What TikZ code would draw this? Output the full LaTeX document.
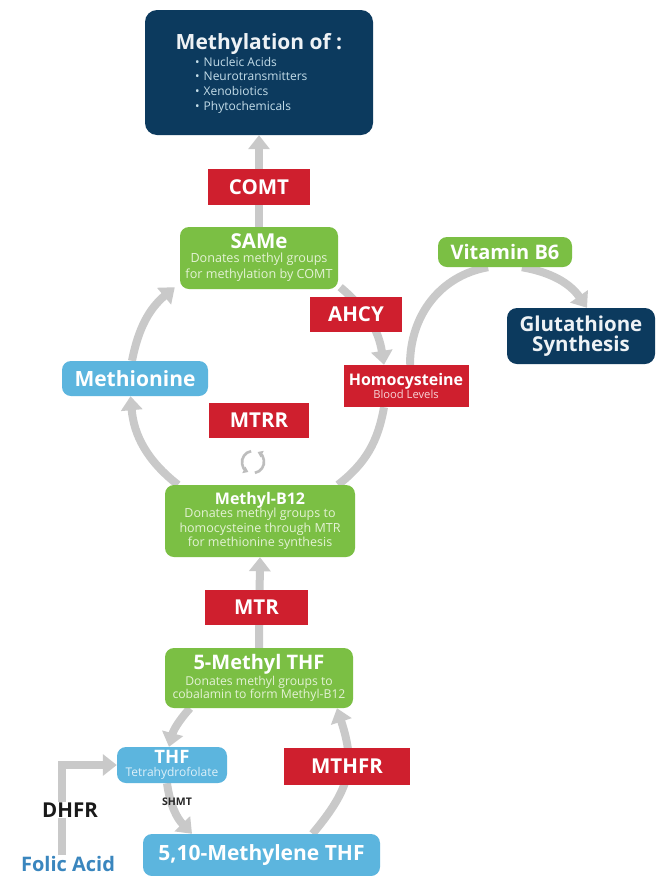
\documentclass[tikz,border=0pt]{standalone}
\usepackage{fontspec}
\setmainfont{Open Sans}
\usetikzlibrary{arrows.meta,backgrounds}
\definecolor{navy}{HTML}{0C3A5E}
\definecolor{enzred}{HTML}{CF1F2E}
\definecolor{leafgreen}{HTML}{7BBF44}
\definecolor{skyblue}{HTML}{5CB5DE}
\definecolor{arrowgray}{HTML}{C9C9C9}
\definecolor{cycgray}{HTML}{BDBDBD}
\definecolor{folicblue}{HTML}{3A86BE}
\definecolor{bullettext}{HTML}{C4DDE9}
\definecolor{greensub}{HTML}{E4F2D5}
\definecolor{bluesub}{HTML}{DCF0F9}
\definecolor{redsub}{HTML}{F7D3D6}
\definecolor{titlewhite}{HTML}{EEF2F5}
\newcommand\mytitle{\bfseries\fontsize{20.5}{22}\selectfont}
\begin{document}
\begin{tikzpicture}[x=1pt,y=-1pt,
  basebox/.style={inner sep=0pt, align=center, text=white},
  navybox/.style={basebox, rounded corners=12pt, fill=navy},
  greenbox/.style={basebox, rounded corners=9pt, fill=leafgreen, text=greensub},
  bluebox/.style={basebox, rounded corners=9pt, fill=skyblue, text=white},
  redbox/.style={basebox, fill=enzred, font=\mytitle},
  garrow/.style={draw=arrowgray, line width=8pt, -{Triangle[width=21pt,length=14pt]}},
  gline/.style={draw=arrowgray, line width=8pt},
  cycarrow/.style={draw=cycgray, line width=2.6pt, -{Triangle[width=7pt,length=5pt]}}
]
\useasboundingbox (0,0) rectangle (666,876);

% ---------- nodes ----------
\node[navybox, minimum width=228pt, minimum height=125pt] (meth) at (259,72.5) {};
\node[font=\bfseries\fontsize{21}{23}\selectfont, text=titlewhite] (methttl) at (259,44) {Methylation of :};
\node[anchor=west, align=left, inner sep=0pt, font=\fontsize{12}{14.7}\selectfont, text=bullettext] (methlist) at (195,85)
  {•\hspace{4pt}Nucleic Acids\\•\hspace{4pt}Neurotransmitters\\•\hspace{4pt}Xenobiotics\\•\hspace{4pt}Phytochemicals};

\node[redbox, minimum width=102pt, minimum height=36pt] (comt) at (259,187) {COMT};

\node[greenbox, minimum width=158pt, minimum height=62pt, font=\fontsize{12.6}{16}\selectfont] (same) at (259,258)
  {{\bfseries\fontsize{20.5}{22}\selectfont\color{white}SAMe}\\[-2pt]Donates methyl groups\\for methylation by COMT};

\node[redbox, minimum width=92pt, minimum height=35pt] (ahcy) at (356,314.5) {AHCY};

\node[basebox, fill=enzred, minimum width=125pt, minimum height=42pt, text=redsub, font=\fontsize{11.2}{13}\selectfont] (hcy) at (406,386)
  {{\bfseries\fontsize{16}{18}\selectfont\color{white}Homocysteine}\\Blood Levels};

\node[greenbox, minimum width=134pt, minimum height=30pt, font=\bfseries\fontsize{20}{22}\selectfont, text=white] (vitb6) at (505,252) {Vitamin B6};

\node[navybox, rounded corners=10pt, minimum width=148pt, minimum height=56pt, font=\bfseries\fontsize{20.5}{19.5}\selectfont, text=titlewhite] (glut) at (581,336) {Glutathione\\Synthesis};

\node[bluebox, minimum width=146pt, minimum height=35pt, font=\bfseries\fontsize{21}{22}\selectfont] (methio) at (135,378.5) {Methionine};

\node[redbox, minimum width=100pt, minimum height=35pt] (mtrr) at (259,420.5) {MTRR};

\node[greenbox, minimum width=190pt, minimum height=72pt, font=\fontsize{12.5}{14.6}\selectfont] (mb12) at (260,521)
  {{\bfseries\fontsize{16}{17}\selectfont\color{white}Methyl-B12}\\[-1pt]Donates methyl groups to\\homocysteine through MTR\\for methionine synthesis};

\node[redbox, minimum width=103pt, minimum height=35pt] (mtr) at (256.5,607.5) {MTR};

\node[greenbox, minimum width=188pt, minimum height=60pt, font=\fontsize{12.2}{13.5}\selectfont] (mthf) at (259,678)
  {{\bfseries\fontsize{20}{21}\selectfont\color{white}5-Methyl THF}\\[1pt]Donates methyl groups to\\cobalamin to form Methyl-B12};

\node[bluebox, minimum width=110pt, minimum height=36pt, text=bluesub, font=\fontsize{12}{13}\selectfont] (thf) at (172,765)
  {{\bfseries\fontsize{18.5}{18}\selectfont\color{white}THF}\\Tetrahydrofolate};

\node[redbox, minimum width=126pt, minimum height=37pt] (mthfr) at (347,766.5) {MTHFR};

\node[bluebox, minimum width=237pt, minimum height=42pt, font=\bfseries\fontsize{21}{23}\selectfont] (mlthf) at (261.5,855) {5,10-Methylene THF};

\node[font=\bfseries\fontsize{20.5}{22}\selectfont, fill=white, inner sep=1pt, text=black!90] (dhfr) at (70,810) {DHFR};
\node[font=\bfseries\fontsize{10.5}{12}\selectfont, inner sep=1pt, text=black!85] (shmt) at (177,802) {SHMT};
\node[font=\bfseries\fontsize{20}{22}\selectfont, inner sep=1pt, text=folicblue] (folic) at (68,864) {Folic Acid};

\coordinate (cyc) at (253,462);

% ---------- connectors ----------
\begin{scope}[on background layer]
  \fill[white] (0,0) rectangle (666,876);
  \draw[garrow] (same.north) -- (meth.south);
  \draw[garrow] ([xshift=2pt,yshift=2pt]same.south east) to[out=-40,in=99] ([xshift=-22pt]hcy.north);
  \draw[gline] ([xshift=-22pt]hcy.south) to[out=-100,in=38] ([xshift=78pt]mb12.north);
  \draw[garrow] ([xshift=-82pt]mb12.north) to[out=142,in=-85] ([xshift=-4.5pt]methio.south);
  \draw[garrow] ([xshift=-3pt]methio.north) to[out=79,in=220] ([xshift=-5pt,yshift=2pt]same.south west);
  \draw[gline] ([xshift=4pt]hcy.north) to[out=90,in=190] ([xshift=-17pt]vitb6.south);
  \draw[garrow] ([xshift=17pt]vitb6.south) to[out=-10,in=125] ([xshift=6pt]glut.north);
  \draw[garrow] (mthf.north) -- (mb12.south);
  \draw[garrow] ([xshift=-69pt]mthf.south) to[out=-132,in=75] ([xshift=-3pt]thf.north);
  \draw[garrow] ([xshift=-5pt]thf.south) to[out=-82,in=134] ([xshift=-69.5pt]mlthf.north);
  \draw[garrow] ([xshift=51pt]mlthf.north) to[out=50,in=-72,looseness=1.2] ([xshift=78pt]mthf.south);
  \draw[garrow] ([xshift=-6pt]folic.north) |- (thf.west);
\end{scope}

\draw[cycarrow] ([shift={(100:11pt)}]cyc) arc[start angle=100, end angle=245, radius=11pt];
\draw[cycarrow] ([shift={(-80:11pt)}]cyc) arc[start angle=-80, end angle=65, radius=11pt];
\end{tikzpicture}
\end{document}
